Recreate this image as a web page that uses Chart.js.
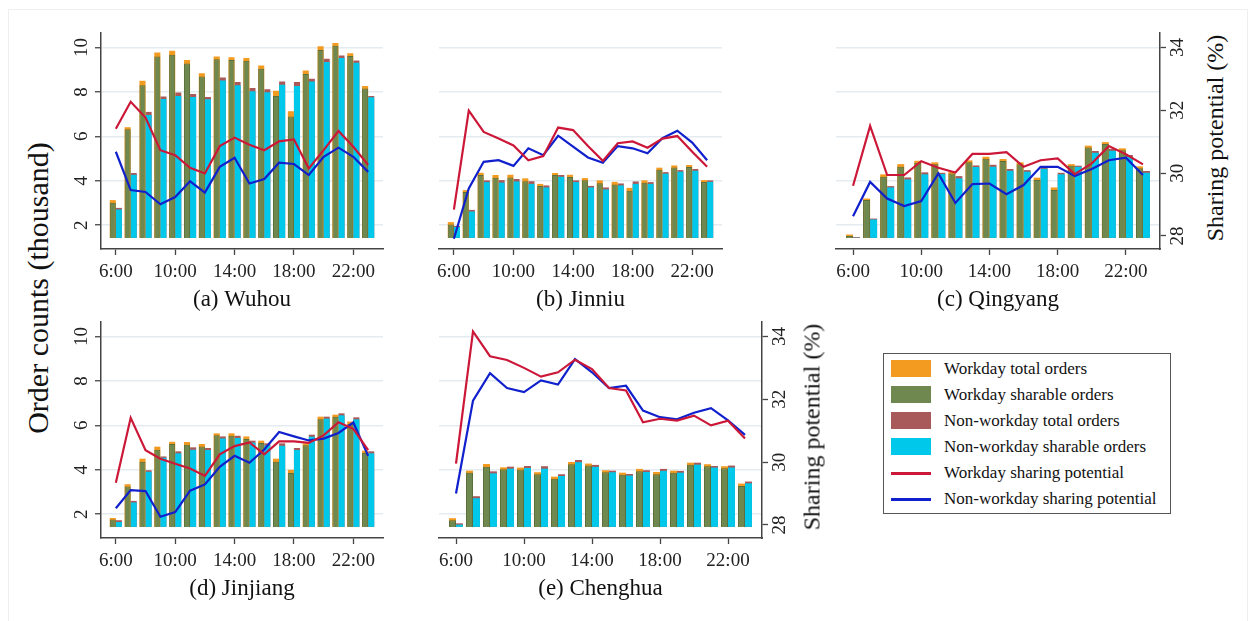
<!DOCTYPE html>
<html>
<head>
<meta charset="utf-8">
<script src="https://cdn.jsdelivr.net/npm/chart.js@4.4.1/dist/chart.umd.min.js"></script>
<style>
body { margin: 0; background: #fff; width: 1252px; height: 621px; position: relative; overflow: hidden; font-family: 'Liberation Serif', 'Times New Roman', serif; }
canvas { position: absolute; }
.frame { position: absolute; left: 8px; top: 9px; width: 1238px; height: 650px; border: 1px solid #efefef; }
.vlabel { position: absolute; transform: translate(-50%, -50%) rotate(-90deg); white-space: nowrap; color: #111; }
#legend { position: absolute; left: 883px; top: 353px; width: 288px; height: 161px; border: 1.5px solid #555; box-sizing: border-box; padding-top: 2px; }
.row { height: 26px; position: relative; font-size: 17px; line-height: 26px; color: #111; }
.sw { position: absolute; left: 7px; top: 4px; width: 40px; height: 17px; box-sizing: border-box; }
.ln { position: absolute; left: 7px; top: 12px; width: 40px; height: 3px; }
.tx { position: absolute; left: 60px; top: 0; white-space: nowrap; }
</style>
</head>
<body>
<div class="frame"></div>
<canvas id="pa"></canvas>
<canvas id="pb"></canvas>
<canvas id="pc"></canvas>
<canvas id="pd"></canvas>
<canvas id="pe"></canvas>
<div class="vlabel" style="left:38px; top:288px; font-size:30px;">Order counts (thousand)</div>
<div class="vlabel" style="left:1215px; top:138px; font-size:24px;">Sharing potential (%)</div>
<div class="vlabel" style="left:812px; top:427px; font-size:24px;">Sharing potential (%)</div>
<div id="legend"></div>
<script>
// hours of the day
var hours = [6, 7, 8, 9, 10, 11, 12, 13, 14, 15, 16, 17, 18, 19, 20, 21, 22, 23];
var hourTicks = [6, 10, 14, 18, 22];
var orderTicks = [2, 4, 6, 8, 10];
var potentialTicks = [28, 30, 32, 34];

// (a) Wuhou
var wuhouWorkTotal = [3.13, 6.41, 8.50, 9.77, 9.85, 9.43, 8.84, 9.59, 9.56, 9.53, 9.19, 8.05, 7.13, 8.96, 10.05, 10.20, 9.74, 8.27];
var wuhouWorkShare = [3.01, 6.32, 8.30, 9.59, 9.67, 9.28, 8.69, 9.47, 9.43, 9.40, 9.04, 7.82, 6.89, 8.80, 9.89, 10.08, 9.62, 8.15];
var wuhouRestTotal = [2.78, 4.35, 7.10, 7.79, 7.97, 7.91, 7.77, 8.65, 8.45, 8.18, 8.12, 8.47, 8.44, 8.59, 9.49, 9.64, 9.41, 7.82];
var wuhouRestShare = [2.71, 4.27, 6.96, 7.68, 7.82, 7.77, 7.67, 8.51, 8.30, 8.03, 7.98, 8.32, 8.27, 8.47, 9.34, 9.53, 9.31, 7.76];
var wuhouWorkPot = [31.41, 32.27, 31.77, 30.73, 30.57, 30.17, 29.99, 30.86, 31.13, 30.90, 30.73, 31.01, 31.07, 30.15, 30.73, 31.34, 30.84, 30.26];
var wuhouRestPot = [30.68, 29.46, 29.40, 29.01, 29.24, 29.74, 29.38, 30.20, 30.49, 29.67, 29.81, 30.33, 30.29, 29.94, 30.52, 30.81, 30.52, 30.04];

// (b) Jinniu
var jinniuWorkTotal = [2.14, 3.58, 4.36, 4.26, 4.27, 4.11, 3.86, 4.35, 4.27, 4.12, 4.02, 3.95, 3.68, 4.02, 4.59, 4.69, 4.71, 4.03];
var jinniuWorkShare = [2.03, 3.49, 4.26, 4.14, 4.15, 3.98, 3.76, 4.26, 4.17, 4.02, 3.89, 3.83, 3.55, 3.91, 4.50, 4.60, 4.62, 3.94];
var jinniuRestTotal = [1.97, 2.69, 4.02, 4.03, 4.08, 3.98, 3.79, 4.26, 4.02, 3.77, 3.70, 3.88, 3.97, 3.94, 4.39, 4.48, 4.53, 4.02];
var jinniuRestShare = [1.92, 2.62, 3.94, 3.92, 3.97, 3.86, 3.70, 4.18, 3.94, 3.70, 3.61, 3.79, 3.86, 3.86, 4.32, 4.41, 4.45, 3.95];
var jinniuWorkPot = [28.84, 31.99, 31.31, 31.10, 30.88, 30.41, 30.54, 31.45, 31.37, 30.86, 30.39, 30.95, 31.01, 30.81, 31.10, 31.18, 30.68, 30.20];
var jinniuRestPot = [27.91, 29.51, 30.36, 30.41, 30.23, 30.79, 30.57, 31.19, 30.84, 30.50, 30.33, 30.86, 30.79, 30.63, 31.11, 31.35, 30.97, 30.41];

// (c) Qingyang
var qingyangWorkTotal = [1.58, 3.20, 4.29, 4.75, 4.90, 4.83, 4.42, 4.92, 5.08, 4.98, 4.83, 4.14, 3.70, 4.75, 5.58, 5.74, 5.46, 4.65];
var qingyangWorkShare = [1.52, 3.13, 4.18, 4.63, 4.81, 4.74, 4.33, 4.83, 4.99, 4.89, 4.74, 4.03, 3.58, 4.68, 5.50, 5.65, 5.37, 4.56];
var qingyangRestTotal = [1.47, 2.30, 3.76, 4.15, 4.38, 4.36, 4.21, 4.69, 4.72, 4.53, 4.48, 4.63, 4.36, 4.68, 5.34, 5.44, 5.16, 4.44];
var qingyangRestShare = [1.44, 2.26, 3.70, 4.06, 4.29, 4.30, 4.11, 4.62, 4.63, 4.45, 4.41, 4.54, 4.29, 4.63, 5.26, 5.35, 5.08, 4.36];
var qingyangWorkPot = [29.60, 31.50, 29.94, 29.94, 30.38, 30.17, 30.02, 30.61, 30.61, 30.67, 30.20, 30.41, 30.47, 29.97, 30.31, 30.86, 30.60, 30.28];
var qingyangRestPot = [28.63, 29.72, 29.19, 28.95, 29.11, 29.99, 29.05, 29.65, 29.67, 29.33, 29.62, 30.20, 30.20, 29.91, 30.13, 30.41, 30.49, 29.94];

// (d) Jinjiang
var jinjiangWorkTotal = [1.83, 3.35, 4.50, 5.04, 5.26, 5.25, 5.16, 5.64, 5.64, 5.50, 5.31, 4.50, 4.00, 5.19, 6.39, 6.48, 6.17, 4.86];
var jinjiangWorkShare = [1.76, 3.25, 4.36, 4.90, 5.16, 5.13, 5.05, 5.55, 5.53, 5.38, 5.20, 4.36, 3.85, 5.10, 6.27, 6.39, 6.05, 4.75];
var jinjiangRestTotal = [1.73, 2.60, 3.98, 4.60, 4.83, 5.01, 4.98, 5.50, 5.53, 5.31, 5.19, 5.19, 4.98, 5.58, 6.39, 6.54, 6.36, 4.83];
var jinjiangRestShare = [1.65, 2.53, 3.91, 4.54, 4.74, 4.90, 4.89, 5.41, 5.43, 5.22, 5.10, 5.08, 4.89, 5.49, 6.30, 6.45, 6.27, 4.74];
var jinjiangWorkPot = [29.34, 31.41, 30.38, 30.11, 29.95, 29.80, 29.56, 30.25, 30.51, 30.63, 30.25, 30.66, 30.66, 30.61, 30.85, 31.27, 31.06, 30.38];
var jinjiangRestPot = [28.53, 29.11, 29.08, 28.26, 28.41, 29.09, 29.29, 29.85, 30.20, 29.98, 30.40, 30.96, 30.82, 30.69, 30.75, 30.93, 31.26, 30.20];

// (e) Chenghua
var chenghuaWorkTotal = [1.82, 3.96, 4.26, 4.11, 4.10, 3.89, 3.69, 4.35, 4.28, 3.98, 3.87, 4.04, 3.90, 3.96, 4.32, 4.25, 4.16, 3.38];
var chenghuaWorkShare = [1.73, 3.87, 4.14, 4.02, 4.01, 3.80, 3.60, 4.25, 4.19, 3.89, 3.78, 3.93, 3.80, 3.87, 4.23, 4.16, 4.07, 3.27];
var chenghuaRestTotal = [1.59, 2.81, 3.93, 4.14, 4.17, 4.16, 3.80, 4.44, 4.22, 3.96, 3.81, 3.98, 4.04, 3.95, 4.32, 4.17, 4.19, 3.47];
var chenghuaRestShare = [1.53, 2.72, 3.84, 4.05, 4.08, 4.05, 3.72, 4.34, 4.13, 3.89, 3.74, 3.90, 3.95, 3.87, 4.23, 4.10, 4.10, 3.39];
var chenghuaWorkPot = [29.95, 34.16, 33.37, 33.25, 33.00, 32.72, 32.86, 33.26, 32.96, 32.36, 32.28, 31.27, 31.38, 31.32, 31.48, 31.17, 31.32, 30.75];
var chenghuaRestPot = [29.00, 31.96, 32.83, 32.36, 32.23, 32.60, 32.47, 33.28, 32.86, 32.36, 32.43, 31.64, 31.43, 31.36, 31.57, 31.72, 31.33, 30.87];

var ORANGE = '#F39A20';
var GREEN = '#6E8850';
var GREEN_EDGE = '#58703E';
var BROWN = '#A85A5A';
var CYAN = '#00C8EB';
var RED = '#CC1838';
var BLUE = '#1020CC';
var AXIS = '#444';
var FONT = "'Liberation Serif', 'Times New Roman', serif";

var legendItems = [
    { label: 'Workday total orders', color: ORANGE, line: false },
    { label: 'Workday sharable orders', color: GREEN, line: false },
    { label: 'Non-workday total orders', color: BROWN, line: false },
    { label: 'Non-workday sharable orders', color: CYAN, line: false },
    { label: 'Workday sharing potential', color: RED, line: true },
    { label: 'Non-workday sharing potential', color: BLUE, line: true }
];

function pts(vals) {
    return hours.map(function (h, i) {
        return { x: h, y: vals[i] };
    });
}

function tickList(values) {
    return function (axis) {
        axis.ticks = values.map(function (v) { return { value: v }; });
    };
}

// vertical axes in the figure have their tick labels turned 90 degrees
var turnedTicks = {
    id: 'turnedTicks',
    afterDraw: function (chart, args, opts) {
        var ctx = chart.ctx;
        (opts.axes || []).forEach(function (a) {
            var s = chart.scales[a.id];
            var x = a.side === 'left' ? s.right - a.gap : s.left + a.gap;
            ctx.save();
            ctx.fillStyle = '#222';
            ctx.font = '19px ' + FONT;
            ctx.textAlign = 'center';
            ctx.textBaseline = 'middle';
            s.ticks.forEach(function (t) {
                ctx.save();
                ctx.translate(x, s.getPixelForValue(t.value));
                ctx.rotate(-Math.PI / 2);
                ctx.fillText(String(t.value), 0, 1);
                ctx.restore();
            });
            ctx.restore();
        });
    }
};

function makePanel(id, pos, title, wTotal, wShare, nTotal, nShare, wPot, nPot, showLeft, showRight) {
    var cv = document.getElementById(id);
    cv.width = pos.w;
    cv.height = pos.h;
    cv.style.left = pos.left + 'px';
    cv.style.top = pos.top + 'px';
    cv.style.width = pos.w + 'px';
    cv.style.height = pos.h + 'px';

    var turned = [];
    if (showLeft) turned.push({ id: 'y', side: 'left', gap: 20 });
    if (showRight) turned.push({ id: 'y2', side: 'right', gap: 17.5 });

    var base = 1.43; // bars start at the bottom of the plot region
    new Chart(cv.getContext('2d'), {
        type: 'bar',
        data: {
            datasets: [
                { type: 'line', label: 'Workday sharing potential', data: pts(wPot), yAxisID: 'y2', borderColor: RED, borderWidth: 2.2, pointRadius: 0, tension: 0, order: 0 },
                { type: 'line', label: 'Non-workday sharing potential', data: pts(nPot), yAxisID: 'y2', borderColor: BLUE, borderWidth: 2.2, pointRadius: 0, tension: 0, order: 0 },
                { label: 'Workday sharable orders', data: pts(wShare), stack: 'w', backgroundColor: GREEN, borderColor: GREEN_EDGE, borderWidth: 1, base: base, order: 1 },
                { label: 'Non-workday sharable orders', data: pts(nShare), stack: 'n', backgroundColor: CYAN, borderWidth: 0, base: base, order: 1 },
                { label: 'Workday total orders', data: pts(wTotal), stack: 'w', backgroundColor: ORANGE, borderWidth: 0, base: base, order: 2 },
                { label: 'Non-workday total orders', data: pts(nTotal), stack: 'n', backgroundColor: BROWN, borderWidth: 0, base: base, order: 2 }
            ]
        },
        plugins: [turnedTicks],
        options: {
            responsive: false,
            animation: false,
            events: [],
            categoryPercentage: 0.82,
            barPercentage: 1.0,
            layout: { padding: { top: 10, left: showLeft ? 0 : 10, right: showRight ? 0 : 10, bottom: 0 } },
            plugins: { legend: { display: false }, tooltip: { enabled: false }, turnedTicks: { axes: turned } },
            scales: {
                x: {
                    type: 'linear', min: 5, max: 24, offset: false,
                    afterBuildTicks: tickList(hourTicks),
                    afterFit: function (s) { s.height = 70; },
                    ticks: { autoSkip: false, maxRotation: 0, padding: 6, color: '#222', font: { family: FONT, size: 19 },
                        callback: function (v) { return v + ':00'; } },
                    grid: { display: true, offset: false, drawOnChartArea: false, drawTicks: true, tickLength: 6, tickColor: AXIS, tickWidth: 1.3 },
                    border: { display: true, color: AXIS, width: 1.5 },
                    title: { display: true, text: title, color: '#111', font: { family: FONT, size: 23 }, padding: { top: 0, bottom: 5 } }
                },
                y: {
                    type: 'linear', position: 'left', min: 0.93, max: 10.65, stacked: false,
                    afterBuildTicks: tickList(orderTicks),
                    afterFit: function (s) { s.width = showLeft ? 40 : 0; },
                    ticks: { display: false },
                    grid: { color: '#E4ECF1', lineWidth: 1.5, drawTicks: showLeft, tickLength: 6, tickColor: AXIS, tickWidth: 1.3 },
                    border: { display: showLeft, color: AXIS, width: 1.5 }
                },
                y2: {
                    type: 'linear', position: 'right', display: showRight, min: 27.585, max: 34.46,
                    afterBuildTicks: tickList(potentialTicks),
                    afterFit: function (s) { s.width = 40; },
                    ticks: { display: false },
                    grid: { drawOnChartArea: false, drawTicks: true, tickLength: 6, tickColor: AXIS, tickWidth: 1.3 },
                    border: { display: true, color: AXIS, width: 1.5 }
                }
            }
        }
    });
}

makePanel('pa', { left: 61, top: 23, w: 372, h: 296 }, '(a) Wuhou',
    wuhouWorkTotal, wuhouWorkShare, wuhouRestTotal, wuhouRestShare, wuhouWorkPot, wuhouRestPot, true, false);
makePanel('pb', { left: 429, top: 23, w: 343, h: 296 }, '(b) Jinniu',
    jinniuWorkTotal, jinniuWorkShare, jinniuRestTotal, jinniuRestShare, jinniuWorkPot, jinniuRestPot, false, false);
makePanel('pc', { left: 826, top: 23, w: 374, h: 296 }, '(c) Qingyang',
    qingyangWorkTotal, qingyangWorkShare, qingyangRestTotal, qingyangRestShare, qingyangWorkPot, qingyangRestPot, false, true);
makePanel('pd', { left: 61, top: 312, w: 372, h: 296 }, '(d) Jinjiang',
    jinjiangWorkTotal, jinjiangWorkShare, jinjiangRestTotal, jinjiangRestShare, jinjiangWorkPot, jinjiangRestPot, true, false);
makePanel('pe', { left: 429, top: 312, w: 373, h: 296 }, '(e) Chenghua',
    chenghuaWorkTotal, chenghuaWorkShare, chenghuaRestTotal, chenghuaRestShare, chenghuaWorkPot, chenghuaRestPot, false, true);

// legend box
var legend = document.getElementById('legend');
legendItems.forEach(function (item) {
    var row = document.createElement('div');
    row.className = 'row';
    var mark = document.createElement('div');
    mark.className = item.line ? 'ln' : 'sw';
    mark.style.background = item.color;
    var text = document.createElement('div');
    text.className = 'tx';
    text.innerText = item.label;
    row.appendChild(mark);
    row.appendChild(text);
    legend.appendChild(row);
});
</script>
</body>
</html>
